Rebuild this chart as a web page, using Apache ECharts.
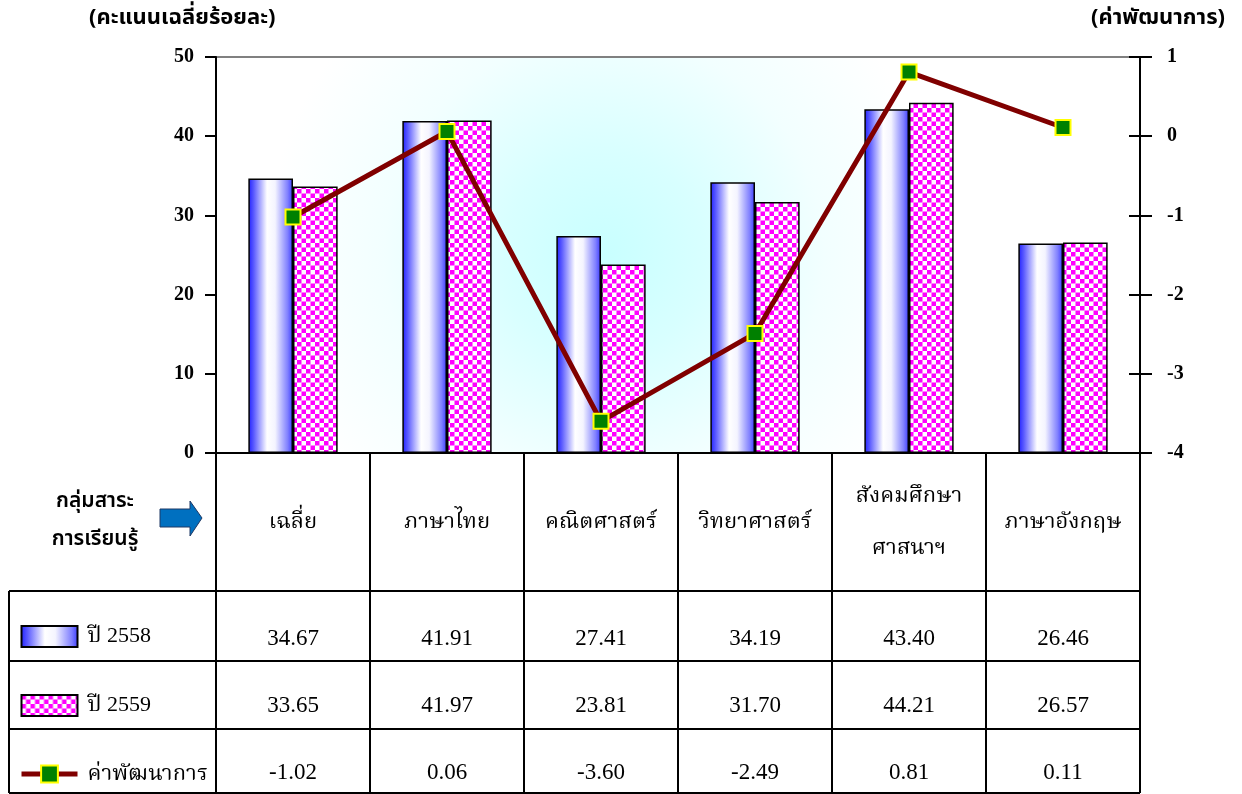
<!DOCTYPE html>
<html><head><meta charset="utf-8">
<script src="https://cdn.jsdelivr.net/npm/echarts@6/dist/echarts.min.js"></script>
<style>html,body{margin:0;padding:0;background:#fff}#c{width:1242px;height:794px}</style>
</head><body><div id="c"></div>
<script>
// ---- data ----
const categories = ['เฉลี่ย', 'ภาษาไทย', 'คณิตศาสตร์', 'วิทยาศาสตร์', 'สังคมศึกษา ศาสนาฯ', 'ภาษาอังกฤษ'];
const seriesNames = ['ปี 2558', 'ปี 2559', 'ค่าพัฒนาการ'];
const scores2558 = [34.67, 41.91, 27.41, 34.19, 43.40, 26.46];
const scores2559 = [33.65, 41.97, 23.81, 31.70, 44.21, 26.57];
const development = [-1.02, 0.06, -3.60, -2.49, 0.81, 0.11];
const leftTicks = [0, 10, 20, 30, 40, 50];
const rightTicks = [-4, -3, -2, -1, 0, 1];
const leftTitle = '(คะแนนเฉลี่ยร้อยละ)';
const rightTitle = '(ค่าพัฒนาการ)';
const rowHeader = ['กลุ่มสาระ', 'การเรียนรู้'];

// ---- layout ----
const W = 1242, H = 794;
const G = { left: 216, right: 1140, top: 57, bottom: 453 };
const rowLines = [591, 661, 729, 793];
const tableLeft = 9;
const SERIF = '"Liberation Serif", "Times New Roman", "Noto Serif Thai", "Noto Sans Thai", serif';
const SANS = '"Noto Sans Thai", "Noto Sans", "DejaVu Sans", sans-serif';

// checker pattern
const pat = document.createElement('canvas');
pat.width = 9; pat.height = 9;
const pc = pat.getContext('2d');
pc.fillStyle = '#ffffff'; pc.fillRect(0, 0, 9, 9);
pc.fillStyle = '#ff00ff'; pc.fillRect(0, 0, 4.5, 4.5); pc.fillRect(4.5, 4.5, 4.5, 4.5);

const blueGrad = new echarts.graphic.LinearGradient(0, 0, 1, 0, [
  { offset: 0, color: '#1f1fff' },
  { offset: 0.12, color: '#5a5aff' },
  { offset: 0.42, color: '#ffffff' },
  { offset: 0.6, color: '#f4f4ff' },
  { offset: 0.88, color: '#8080ff' },
  { offset: 1, color: '#3a3aff' }
]);

const chart = echarts.init(document.getElementById('c'), null, { renderer: 'canvas' });

function valueAxis(data, margin) {
  return {
    type: 'category', data: data, gridIndex: 0, position: 'bottom',
    axisLine: { show: false }, axisTick: { show: false }, splitLine: { show: false },
    axisLabel: { interval: 0, margin: margin, verticalAlign: 'middle', fontFamily: SERIF, fontSize: 23, color: '#000' }
  };
}

const graphics = [];
rowLines.forEach(y => graphics.push({ type: 'line', shape: { x1: tableLeft, y1: y, x2: G.right, y2: y }, style: { stroke: '#000', lineWidth: 2 }, z: 10 }));
graphics.push({ type: 'line', shape: { x1: tableLeft, y1: rowLines[0], x2: tableLeft, y2: rowLines[rowLines.length - 1] }, style: { stroke: '#000', lineWidth: 2 }, z: 10 });
graphics.push({ type: 'text', x: 95, y: 484, style: { text: rowHeader.join('\n'), font: '600 21px ' + SANS, fill: '#000', align: 'center', lineHeight: 38 }, z: 10 });
graphics.push({ type: 'polygon', shape: { points: [[160, 509], [190, 509], [190, 501], [202, 518], [190, 536], [190, 527], [160, 527]] }, style: { fill: '#0070c0', stroke: '#1f3864', lineWidth: 1 }, z: 10 });

chart.setOption({
  animation: false,
  backgroundColor: '#ffffff',
  title: [
    { text: leftTitle, left: 84, top: 4, textStyle: { fontFamily: SANS, fontWeight: 'bold', fontSize: 22, color: '#000' } },
    { text: rightTitle, right: 12, top: 4, textStyle: { fontFamily: SANS, fontWeight: 'bold', fontSize: 22, color: '#000' } }
  ],
  grid: {
    left: G.left, right: W - G.right, top: G.top, bottom: H - G.bottom,
    show: true, borderColor: '#808080', borderWidth: 2,
    backgroundColor: { type: 'radial', x: 0.42, y: 0.5, r: 0.85, colorStops: [
      { offset: 0, color: '#c8ffff' }, { offset: 0.3, color: '#d8ffff' }, { offset: 0.65, color: '#f2ffff' }, { offset: 1, color: '#ffffff' }] }
  },
  legend: {
    orient: 'vertical', left: 14, top: 620, itemWidth: 56, itemHeight: 21, itemGap: 46,
    data: [
      { name: seriesNames[0], icon: 'rect' },
      { name: seriesNames[1], icon: 'rect' },
      { name: seriesNames[2], lineStyle: { width: 5, color: '#800000' } }
    ],
    selectedMode: false,
    textStyle: { fontFamily: SERIF, fontSize: 22, color: '#000', padding: [6, 0, 0, 5] }
  },
  xAxis: [
    {
      type: 'category', data: categories, gridIndex: 0, position: 'bottom',
      axisLine: { show: true, lineStyle: { color: '#000', width: 2 } },
      axisTick: { show: true, interval: 0, length: rowLines[rowLines.length - 1] - G.bottom, lineStyle: { color: '#000', width: 2 } },
      axisLabel: { interval: 0, margin: 69, verticalAlign: 'middle', lineHeight: 52, fontFamily: SERIF, fontSize: 22, color: '#000',
        formatter: v => v.replace(' ', '\n') }
    },
    valueAxis(scores2558.map(v => v.toFixed(2)), 186),
    valueAxis(scores2559.map(v => v.toFixed(2)), 253),
    valueAxis(development.map(v => v.toFixed(2)), 320)
  ],
  yAxis: [
    {
      type: 'value', position: 'left', min: leftTicks[0], max: leftTicks[leftTicks.length - 1], interval: leftTicks[1] - leftTicks[0],
      axisLine: { show: true, lineStyle: { color: '#000', width: 2 } },
      axisTick: { show: true, length: 11, lineStyle: { color: '#000', width: 2 } },
      axisLabel: { margin: 22, fontFamily: SERIF, fontWeight: 'bold', fontSize: 20, color: '#000' },
      splitLine: { show: false }
    },
    {
      type: 'value', position: 'right', min: rightTicks[0], max: rightTicks[rightTicks.length - 1], interval: rightTicks[1] - rightTicks[0],
      axisLine: { show: true, lineStyle: { color: '#000', width: 2 } },
      axisTick: { show: true, length: 12, lineStyle: { color: '#000', width: 2 } },
      axisLabel: { margin: 27, fontFamily: SERIF, fontWeight: 'bold', fontSize: 20, color: '#000' },
      splitLine: { show: false }
    },
    {
      type: 'value', position: 'right', min: rightTicks[0], max: rightTicks[rightTicks.length - 1], interval: rightTicks[1] - rightTicks[0],
      axisLine: { show: false },
      axisTick: { show: true, inside: true, length: 11, lineStyle: { color: '#000', width: 2 } },
      axisLabel: { show: false }, splitLine: { show: false }
    }
  ],
  series: [
    {
      name: seriesNames[0], type: 'bar', data: scores2558, barGap: '0%', barCategoryGap: '42%',
      itemStyle: { color: blueGrad, borderColor: '#000', borderWidth: 1.5 }
    },
    {
      name: seriesNames[1], type: 'bar', data: scores2559, barGap: '0%', barCategoryGap: '42%',
      itemStyle: { color: { image: pat, repeat: 'repeat' }, borderColor: '#000', borderWidth: 1.5 }
    },
    {
      name: seriesNames[2], type: 'line', yAxisIndex: 1, data: development, z: 5,
      lineStyle: { color: '#800000', width: 5 },
      symbol: 'rect', symbolSize: 15, showSymbol: true,
      itemStyle: { color: '#008000', borderColor: '#ffff00', borderWidth: 2 }
    }
  ],
  graphic: graphics
});
</script></body></html>
